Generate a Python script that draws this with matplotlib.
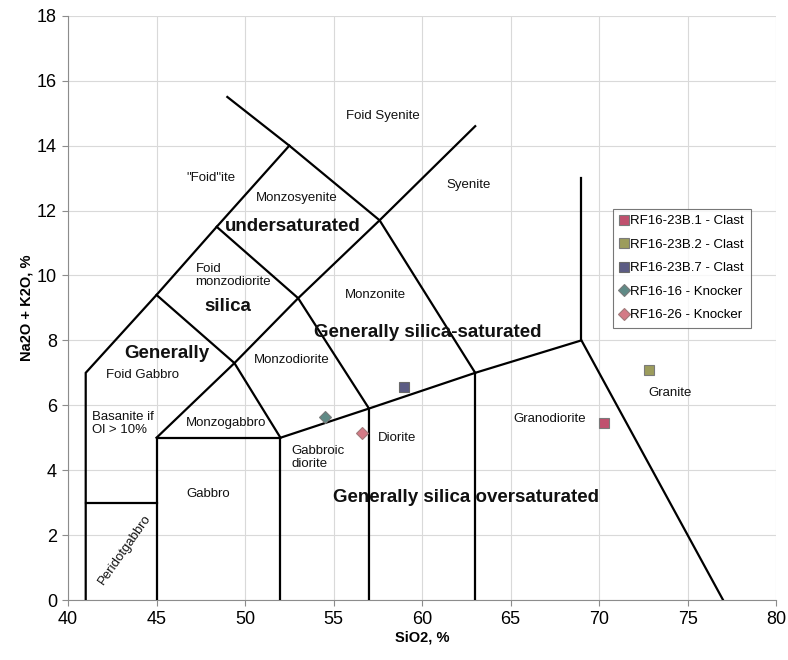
import matplotlib
matplotlib.use("Agg")
import matplotlib.pyplot as plt

plt.rcParams['font.family'] = ['Liberation Sans', 'DejaVu Sans']

# TAS field boundaries for plutonic rocks (SiO2, Na2O+K2O)
boundaries = [
    [(41, 0), (41, 7), (45, 9.4), (48.4, 11.5), (52.5, 14)],
    [(49, 15.5), (52.5, 14), (57.6, 11.7), (63, 7)],
    [(45, 5), (49.4, 7.3), (53, 9.3), (57.6, 11.7), (63, 14.6)],
    [(45, 9.4), (49.4, 7.3), (52, 5)],
    [(48.4, 11.5), (53, 9.3), (57, 5.9), (57, 0)],
    [(41, 3), (45, 3)],
    [(45, 0), (45, 5), (52, 5), (52, 0)],
    [(52, 5), (57, 5.9), (63, 7), (69, 8), (77, 0)],
    [(63, 0), (63, 7)],
    [(69, 8), (69, 13)],
]

# samples
sample_names = ["RF16-23B.1 - Clast", "RF16-23B.2 - Clast", "RF16-23B.7 - Clast",
                "RF16-16 - Knocker", "RF16-26 - Knocker"]
sio2 = [70.3, 72.8, 59.0, 54.5, 56.6]
alkali = [5.45, 7.1, 6.55, 5.65, 5.15]
markers = ["s", "s", "s", "D", "D"]
face_colors = ["#c0506e", "#9c9c5c", "#5c5c84", "#5f8a86", "#d47a86"]
edge_colors = ["#7a7a7a", "#7a7a7a", "#6a6a6a", "#7a7a7a", "#a07a7a"]

# field names: (text, x, y, size, bold, alignment, rotation)
field_labels = [
    ("Foid Syenite", 57.8, 14.9, 9.5, False, "center", 0),
    ('"Foid"ite', 48.1, 13.0, 9.5, False, "center", 0),
    ("Monzosyenite", 52.9, 12.4, 9.5, False, "center", 0),
    ("undersaturated", 52.7, 11.5, 13.5, True, "center", 0),
    ("Foid\nmonzodiorite", 47.2, 10.0, 9.5, False, "left", 0),
    ("silica", 49.0, 9.05, 13.5, True, "center", 0),
    ("Syenite", 62.6, 12.8, 9.5, False, "center", 0),
    ("Monzonite", 57.35, 9.4, 9.5, False, "center", 0),
    ("Generally silica-saturated", 60.3, 8.25, 13.5, True, "center", 0),
    ("Generally", 45.6, 7.6, 13.5, True, "center", 0),
    ("Foid Gabbro", 44.2, 6.93, 9.5, False, "center", 0),
    ("Basanite if\nOl > 10%", 41.35, 5.45, 9.5, False, "left", 0),
    ("Monzogabbro", 48.9, 5.45, 9.5, False, "center", 0),
    ("Monzodiorite", 52.65, 7.4, 9.5, False, "center", 0),
    ("Gabbro", 47.9, 3.27, 9.5, False, "center", 0),
    ("Peridotgabbro", 43.2, 1.55, 9.5, False, "center", 55),
    ("Gabbroic\ndiorite", 52.6, 4.4, 9.5, False, "left", 0),
    ("Diorite", 58.6, 5.0, 9.5, False, "center", 0),
    ("Generally silica oversaturated", 62.5, 3.17, 13.5, True, "center", 0),
    ("Granodiorite", 67.2, 5.58, 9.5, False, "center", 0),
    ("Granite", 74.0, 6.38, 9.5, False, "center", 0),
]

fig, ax = plt.subplots(figsize=(7.88, 6.6), dpi=100)
fig.subplots_adjust(left=0.0863, right=0.985, bottom=0.0909, top=0.976)

for line in boundaries:
    xs = [p[0] for p in line]
    ys = [p[1] for p in line]
    ax.plot(xs, ys, color="black", lw=1.6, solid_joinstyle="miter", zorder=3)

for name, x, y, m, fc, ec in zip(sample_names, sio2, alkali, markers, face_colors, edge_colors):
    ax.plot(x, y, linestyle="none", marker=m, markersize=7.5 if m == "s" else 6.5,
            markerfacecolor=fc, markeredgecolor=ec, markeredgewidth=0.8,
            label=name, zorder=4)

for text, x, y, size, bold, ha, rot in field_labels:
    ax.text(x, y, text, fontsize=size, fontweight="bold" if bold else "normal",
            ha=ha, va="center", rotation=rot, color="#111111", linespacing=1.1,
            zorder=5)

ax.set_xlim(40, 80)
ax.set_ylim(0, 18)
ax.set_xticks(range(40, 81, 5))
ax.set_yticks(range(0, 19, 2))
ax.grid(True, color="#d9d9d9", lw=0.8, zorder=0)
ax.set_axisbelow(True)
for side in ["top", "right"]:
    ax.spines[side].set_visible(False)
for side in ["left", "bottom"]:
    ax.spines[side].set_color("#8c8c8c")
ax.tick_params(axis="both", labelsize=13, color="#8c8c8c", length=4, pad=4)

ax.set_xlabel("SiO2, %", fontsize=10.5, fontweight="bold", labelpad=2)
ax.set_ylabel("Na2O + K2O, %", fontsize=10.5, fontweight="bold", labelpad=2)

leg = ax.legend(loc="upper left", bbox_to_anchor=(0.770, 0.67), fontsize=9.5,
                frameon=True, fancybox=False, borderpad=0.5, labelspacing=0.85,
                handlelength=0.6, handletextpad=0.2, borderaxespad=0)
leg.get_frame().set_edgecolor("#555555")
leg.get_frame().set_linewidth(0.8)

plt.savefig("out.png", dpi=100)
